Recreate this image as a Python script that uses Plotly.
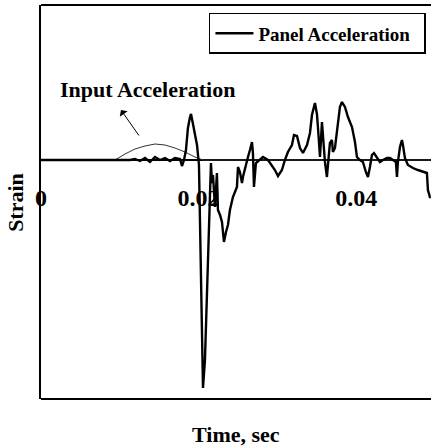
import plotly.graph_objects as go

# Panel acceleration response (time in ms, strain in arbitrary units)
panel_time_ms = [
    0, 7.49, 11.29, 11.93, 12.56, 13.20, 13.83, 14.47, 15.10, 15.74, 16.37, 17.00,
    17.64, 17.89, 18.15, 18.40, 18.65, 18.91, 19.04, 19.29, 19.54, 19.80, 20.05,
    20.30, 20.56, 20.81, 21.07, 21.32, 21.45, 21.57, 21.70, 21.83, 22.08, 22.33,
    22.46, 22.72, 22.97, 23.22, 23.48, 23.73, 23.98, 24.36, 24.87, 25.00, 25.25,
    25.51, 25.63, 25.89, 26.27, 26.52, 26.78, 26.90, 27.03, 27.28, 27.79, 28.17,
    28.81, 29.31, 29.69, 30.08, 30.58, 30.96, 31.34, 31.85, 32.11, 32.49, 32.87,
    33.25, 33.76, 34.14, 34.39, 34.77, 35.02, 35.15, 35.41, 35.66, 35.79, 36.04,
    36.29, 36.42, 36.67, 36.93, 37.05, 37.31, 37.56, 37.94, 38.20, 38.58, 38.96,
    39.47, 39.85, 40.10, 40.48, 40.86, 41.24, 41.50, 41.75, 42.00, 42.26, 42.64,
    43.02, 43.40, 43.91, 44.29, 44.67, 45.05, 45.18, 45.30, 45.56, 45.81, 45.94,
    46.19, 46.57, 47.21, 47.84, 48.48, 48.98, 49.11, 49.36, 49.49,
]
panel_strain = [
    0, 0, 0, 0.01, -0.01, 0.02, -0.02, 0.03, 0, 0.02, -0.01, 0.02,
    0.01, -0.06, 0, 0.10, 0.32, 0.43, 0.46, 0.36, 0.27, 0.15, -0.05,
    -1.20, -2.28, -2.00, -1.30, -0.55, -0.15, -0.03, -0.23, -0.15, -0.47, -0.13,
    -0.50, -0.55, -0.62, -0.82, -0.72, -0.65, -0.50, -0.37, -0.27, -0.07, -0.12,
    -0.23, -0.17, -0.08, 0.03, 0.10, 0.18, 0.07, -0.27, -0.03, 0, 0.03,
    0, -0.05, -0.10, -0.16, -0.10, 0, 0.08, 0.15, 0.25, 0.24, 0.12,
    0.07, 0.15, 0.27, 0.45, 0.57, 0.46, 0.33, 0.03, 0.38, 0.23, -0.02,
    -0.17, -0.02, 0.17, 0.20, 0.08, 0.12, 0.30, 0.53, 0.58, 0.53, 0.43,
    0.33, 0.18, 0.03, 0, -0.02, -0.12, -0.17, -0.07, 0.05, 0.07, 0.02,
    -0.02, 0, 0.02, 0.02, 0, -0.02, -0.17, -0.02, 0.13, 0.20, 0.15,
    0.02, -0.05, -0.08, -0.10, -0.12, -0.13, -0.30, -0.37, -0.37,
]

# Input acceleration pulse
input_time_ms = [0, 9.39, 10.66, 11.93, 13.20, 14.47, 15.74, 17.00, 18.27, 19.54, 20.56, 49.49]
input_strain = [0, 0, 0.06, 0.11, 0.14, 0.16, 0.15, 0.12, 0.08, 0.03, 0, 0]

tick_vals = [0, 0.02, 0.04]
tick_text = ["0", "0.02", "0.04"]

panel_time = [t / 1000 for t in panel_time_ms]
input_time = [t / 1000 for t in input_time_ms]

SERIF = "Liberation Serif"

fig = go.Figure()
fig.add_trace(go.Scatter(
    x=input_time, y=input_strain, mode="lines",
    line=dict(color="#333333", width=1), showlegend=False,
    name="Input Acceleration",
))
fig.add_trace(go.Scatter(
    x=panel_time, y=panel_strain, mode="lines",
    line=dict(color="black", width=2.4),
    name="Panel Acceleration\u00a0\u00a0",
))

fig.update_layout(
    width=431, height=448,
    margin=dict(l=41, r=0, t=5, b=49),
    paper_bgcolor="white", plot_bgcolor="white",
    font=dict(family=SERIF, color="black"),
    legend=dict(
        x=0.987, y=0.98, xanchor="right", yanchor="top",
        bordercolor="black", borderwidth=1.5, bgcolor="white",
        itemwidth=38,
        font=dict(family=SERIF, size=19, weight="bold", color="black"),
    ),
    xaxis=dict(
        range=[0, 0.0495], showgrid=False, zeroline=False, showline=False,
        tickvals=tick_vals, ticktext=tick_text, ticks="",
        anchor="free", position=0.553, layer="below traces",
        tickfont=dict(family=SERIF, size=24, weight="bold", color="black"),
    ),
    yaxis=dict(
        range=[-2.39, 1.55], showgrid=False, showticklabels=False, ticks="",
        zeroline=True, zerolinecolor="black", zerolinewidth=1.5,
        showline=True, linecolor="black", linewidth=2,
    ),
    shapes=[
        dict(type="line", xref="paper", yref="paper", x0=0, x1=1, y0=1, y1=1,
             line=dict(color="black", width=2)),
        dict(type="line", xref="paper", yref="paper", x0=0, x1=1, y0=0, y1=0,
             line=dict(color="black", width=2)),
    ],
    annotations=[
        dict(text="Input Acceleration", x=0.01358, y=0.71, xref="x", yref="y",
             showarrow=False, font=dict(family=SERIF, size=22, weight="bold")),
        dict(text="", x=0.01015, y=0.50, xref="x", yref="y",
             showarrow=True, ax=19, ay=27, arrowhead=1, arrowsize=1.6,
             arrowwidth=1, arrowcolor="black"),
        dict(text="Time, sec", x=0.5, y=-0.09, xref="paper", yref="paper",
             showarrow=False, yanchor="middle",
             font=dict(family=SERIF, size=22, weight="bold")),
        dict(text="Strain", x=-0.067, y=0.5, xref="paper", yref="paper",
             showarrow=False, textangle=-90, xanchor="center",
             font=dict(family=SERIF, size=22, weight="bold")),
    ],
)

fig.write_html("out.html")
